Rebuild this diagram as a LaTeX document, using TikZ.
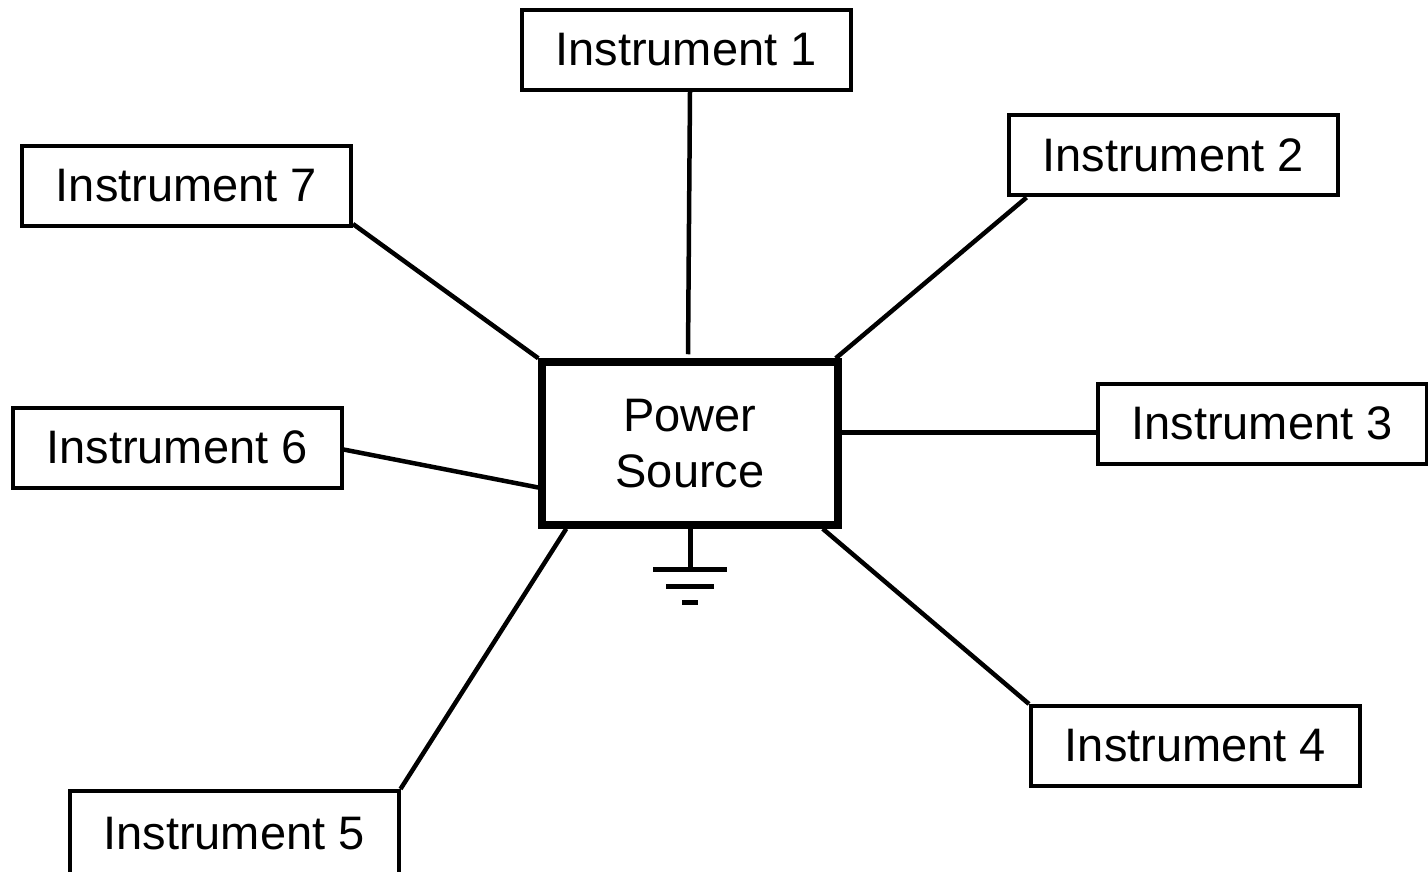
\documentclass[tikz,border=0pt]{standalone}
\usepackage{fontspec}
\setmainfont{Liberation Sans}
\usetikzlibrary{calc}
\begin{document}
\begin{tikzpicture}[x=1pt,y=-1pt,
  inst/.style={draw,line width=4pt,minimum width=329pt,minimum height=80pt,inner sep=0pt,font=\fontsize{47}{56}\selectfont},
  psrc/.style={draw,line width=7.5pt,minimum width=296pt,minimum height=163pt,inner sep=0pt,align=center,font=\fontsize{47}{56}\selectfont},
  wire/.style={line width=4.5pt},
  gnd/.style={line width=5pt}]
\useasboundingbox (0,0) rectangle (1428,872);
\node[psrc] (pw) at (690,443.5) {Power\\Source};
\node[inst] (i1) at (686,50) {Instrument 1};
\node[inst] (i2) at (1173,155.5) {Instrument 2};
\node[inst] (i3) at (1262,423.5) {Instrument 3};
\node[inst] (i4) at (1195.5,746) {Instrument 4};
\node[inst,minimum height=86pt] (i5) at (234,834) {Instrument 5};
\node[inst] (i6) at (177,447.5) {Instrument 6};
\node[inst] (i7) at (186.5,186) {Instrument 7};
% connectors
\coordinate (p1) at ($(pw.north)+(-2,-4)$);
\coordinate (p2) at ($(pw.north east)+(-6,0)$);
\coordinate (p3) at ($(pw.east)+(0,-11)$);
\coordinate (p5) at ($(pw.south west)+(28,0)$);
\coordinate (p4) at ($(pw.south east)+(-19,0)$);
\coordinate (p6) at ($(pw.west)+(0,44)$);
\draw[wire] ($(i1.south)+(4,0)$) -- (p1);
\draw[wire] ($(i2.south west)+(20,0)$) -- (p2);
\draw[wire] (p3) -- (p3 -| i3.west);
\draw[wire] (i4.north west) -- (p4);
\draw[wire] (i5.north east) -- (p5);
\draw[wire] ($(i6.east)+(0,2)$) -- (p6);
\draw[wire] ($(i7.south east)+(0,-4)$) -- (pw.north west);
% ground
\coordinate (g) at ($(pw.south)+(0,41)$);
\draw[gnd] (pw.south) -- (g);
\draw[gnd] ($(g)+(-37,0)$) -- ($(g)+(37,0)$);
\draw[gnd] ($(g)+(-24,17)$) -- ($(g)+(24,17)$);
\draw[gnd] ($(g)+(-8,33)$) -- ($(g)+(8,33)$);
\end{tikzpicture}
\end{document}
